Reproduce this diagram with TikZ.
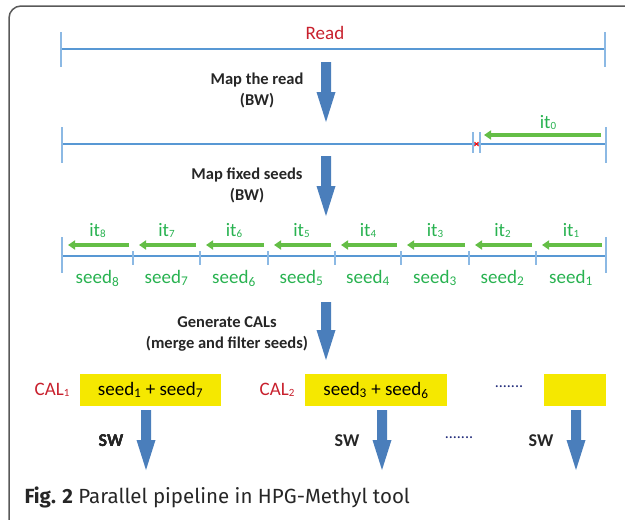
\documentclass[tikz,border=0pt]{standalone}
\usepackage{fontspec}
\setmainfont{Carlito}
\newfontfamily\capfont{Fira Sans}
\usetikzlibrary{arrows.meta}
\definecolor{lineblue}{RGB}{88,152,212}
\definecolor{tickblue}{RGB}{140,185,228}
\definecolor{arrowblue}{RGB}{74,126,187}
\definecolor{itgreen}{RGB}{40,178,80}
\definecolor{arrgreen}{RGB}{100,190,70}
\definecolor{calred}{RGB}{200,32,45}
\definecolor{boxyellow}{RGB}{245,232,0}
\definecolor{dotblue}{RGB}{30,40,120}
\newcommand{\bigarrow}[3]{\fill[arrowblue] (#1-5,#2) -- (#1+5,#2) -- (#1+5,#3-30) -- (#1+9.5,#3-30) -- (#1,#3) -- (#1-9.5,#3-30) -- (#1-5,#3-30) -- cycle;}
\newcommand{\smalldigit}[1]{{\fontsize{11}{11}\selectfont\raisebox{-1pt}{#1}}}

\begin{document}
\begin{tikzpicture}[x=1pt,y=-1pt,
  seg/.style={lineblue, line width=2.7pt},
  tick/.style={tickblue, line width=1.2pt},
  itarrow/.style={arrgreen, line width=3.5pt, -{Triangle[length=7pt,width=9pt]}},
  lbl/.style={font=\fontsize{16.5}{21}\selectfont\bfseries, text=black!85, align=center},
  greentxt/.style={text=itgreen, font=\fontsize{19}{19}\selectfont, anchor=base},
  redtxt/.style={text=calred, font=\fontsize{19}{19}\selectfont},
  calbox/.style={fill=boxyellow, minimum height=32pt, inner sep=0pt, font=\fontsize{19}{19}\selectfont}]
\useasboundingbox (0,0) rectangle (625,520);
\clip (0,0) rectangle (625,520);
\draw[black!65, line width=1.5pt, rounded corners=12pt] (9,540) -- (9,6) -- (650,6);

\node[redtxt, anchor=base] (read) at (325,39) {Read};
\draw[seg] (61,49) -- (605,49);
\foreach \x in {61,605} \draw[tick] (\x,32) -- (\x,67);
\bigarrow{326}{62}{122}
\node[lbl] (mapread) at (257,90) {Map the read\\(BW)};

\draw[seg] (62,144) -- (606,144);
\foreach \x in {62,606} \draw[tick] (\x,127) -- (\x,163);
\foreach \x in {473,480} \draw[tick] (\x,132) -- (\x,153);
\draw[red, line width=1pt] (474.5,142) -- (478.5,146) (474.5,146) -- (478.5,142);
\draw[itarrow] (601,135) -- (484,135);
\node[greentxt] (it0) at (548,128) {it\smalldigit{0}};
\bigarrow{326}{156}{216}
\node[lbl] (mapseeds) at (247,185) {Map fixed seeds\\(BW)};

\draw[seg] (62,256) -- (606,256);
\foreach \x in {62,606} \draw[tick] (\x,237) -- (\x,273);
\foreach \x in {133,200,268,335,401,469,536} \draw[tick] (\x,251) -- (\x,265);
\foreach \l/\r [count=\i] in {536/606,469/536,401/469,335/401,268/335,200/268,133/200,62/133}{
  \draw[itarrow] (\r-4,245) -- (\l+6,245);
  \node[greentxt] (it\i) at ({(\l+\r)/2},236) {it\smalldigit{\i}};
  \node[greentxt] (seed\i) at ({(\l+\r)/2},283) {seed\textsubscript{\i}};
}
\bigarrow{326}{302}{360}
\node[lbl] (gencal) at (227,334) {Generate CALs\\(merge and filter seeds)};

\node[redtxt] (cal1) at (52,390) {CAL\smalldigit{1}};
\node[calbox, minimum width=141pt] (cal1box) at (150.5,390) {seed\textsubscript{1} + seed\textsubscript{7}};
\node[redtxt] (cal2) at (277,390) {CAL\smalldigit{2}};
\node[calbox, minimum width=142pt] (cal2box) at (376,390) {seed\textsubscript{3} + seed\textsubscript{6}};
\node[text=dotblue, font=\fontsize{16}{16}\selectfont] (dots1) at (509,387) {.......};
\node[calbox, minimum width=62pt] (cal3box) at (575,390) {};

\foreach \x in {146,382,576} \bigarrow{\x}{410}{470}
\node[lbl, font=\fontsize{18}{18}\selectfont\bfseries] (sw1) at (111,441) {SW};
\node[lbl, font=\fontsize{18}{18}\selectfont\bfseries] (sw2) at (347,441) {SW};
\node[text=dotblue, font=\fontsize{16}{16}\selectfont] (dots2) at (459,438) {.......};
\node[lbl, font=\fontsize{18}{18}\selectfont\bfseries] (sw3) at (541,441) {SW};

\node[anchor=west, text=black!85, font=\capfont\fontsize{20.5}{20.5}\selectfont] (caption) at (21,497) {\textbf{Fig. 2} Parallel pipeline in HPG-Methyl tool};
\end{tikzpicture}
\end{document}
